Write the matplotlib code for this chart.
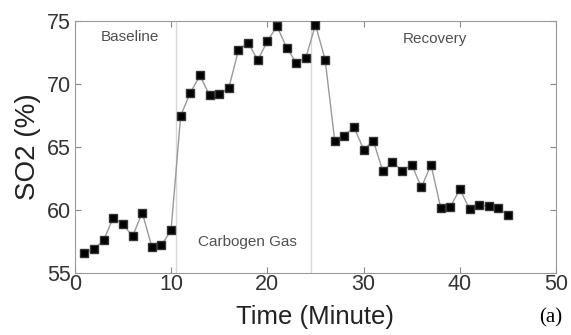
import matplotlib
matplotlib.use('Agg')
import matplotlib.pyplot as plt

plt.rcParams['font.family'] = ['Liberation Sans', 'DejaVu Sans']

# SO2 readings per minute
minutes = list(range(1, 46))
so2 = [56.6, 56.9, 57.6, 59.4, 58.9, 57.9, 59.8, 57.1, 57.2, 58.4,
       67.5, 69.3, 70.7, 69.1, 69.2, 69.7, 72.7, 73.3, 71.9, 73.4,
       74.6, 72.9, 71.7, 72.1, 74.7, 71.95, 65.5, 65.9, 66.6, 64.8,
       65.5, 63.1, 63.8, 63.1, 63.6, 61.8, 63.6, 60.2, 60.25, 61.65,
       60.1, 60.4, 60.3, 60.15, 59.6]

phase_bounds = [10.5, 24.5]
phase_names = ['Baseline', 'Carbogen Gas', 'Recovery']
phase_pos = [(5.7, 73.7), (17.9, 57.5), (37.4, 73.6)]

fig = plt.figure(figsize=(5.71, 3.35), dpi=100)
ax = fig.add_axes([0.131, 0.185, 0.843, 0.752])

for b in phase_bounds:
    ax.axvline(b, color='#d8d8d8', linewidth=1.0, zorder=1)

ax.plot(minutes, so2, color='#999999', linewidth=1.0, zorder=2)
ax.plot(minutes, so2, linestyle='none', marker='s', markersize=6,
        markerfacecolor='black', markeredgecolor='#333333', zorder=3)

for name, (x, y) in zip(phase_names, phase_pos):
    ax.text(x, y, name, ha='center', va='center', fontsize=11, color='#505050')

ax.set_xlim(0, 50)
ax.set_ylim(55, 75)
ax.set_xticks([0, 10, 20, 30, 40, 50])
ax.set_yticks([55, 60, 65, 70, 75])
ax.tick_params(direction='in', top=True, right=True, labelsize=15.5,
               length=4, color='#888888', labelcolor='#333333')
ax.tick_params(axis='x', pad=1)
ax.tick_params(axis='y', pad=3)
for s in ax.spines.values():
    s.set_color('#999999')

ax.set_xlabel('Time (Minute)', fontsize=18.5, labelpad=7, color='#222222')
ax.set_ylabel('SO2 (%)', fontsize=20, labelpad=4, color='#222222')

fig.text(0.965, 0.05, '(a)', fontsize=15, family='Liberation Serif',
         ha='center', va='center')

fig.savefig('out.png', dpi=100)
